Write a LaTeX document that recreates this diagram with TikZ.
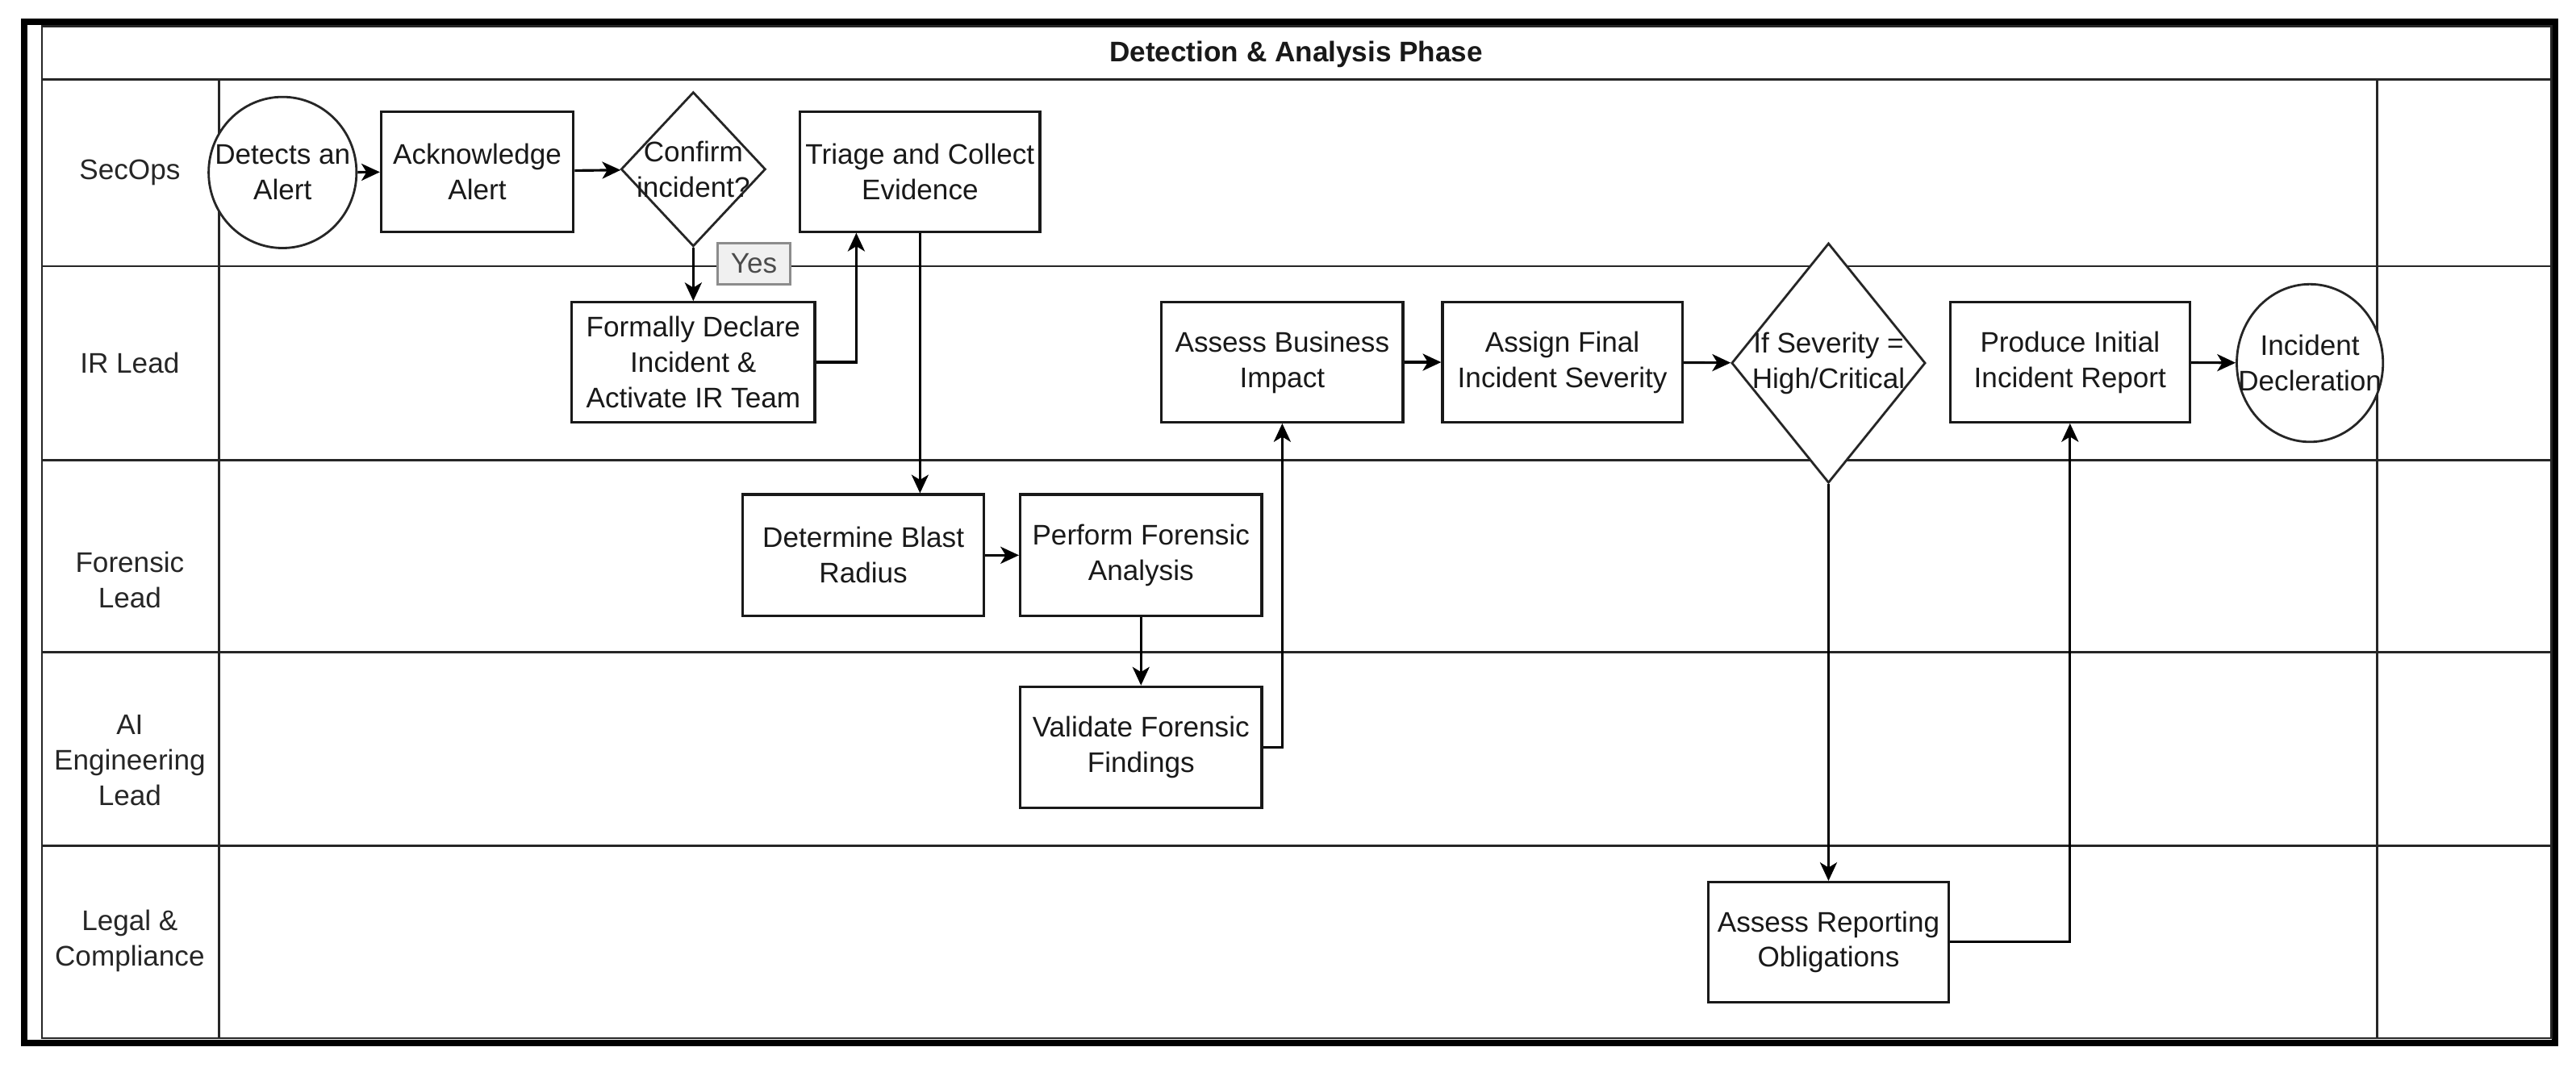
\documentclass[tikz,border=0pt]{standalone}
\usepackage{fontspec}
\setmainfont{Liberation Sans}
\usetikzlibrary{shapes.geometric,arrows.meta,calc}
\newcommand{\uu}{0.020364cm}
\begin{document}
\begin{tikzpicture}[x=0.020364cm,y=-0.020364cm,
  lane/.style={draw=black!85, line width=0.8pt},
  frame/.style={draw=black, line width=2.1pt},
  box/.style={draw=black!90, line width=0.9pt, fill=white, rectangle, inner sep=0pt, align=center, font=\fontsize{10}{12.5}\selectfont, text=black!90},
  ell/.style={draw=black!85, line width=0.8pt, fill=white, ellipse, inner sep=0pt},
  dia/.style={draw=black!85, line width=0.8pt, fill=white, diamond, inner sep=0pt},
  txt/.style={align=center, font=\fontsize{10}{12.5}\selectfont, text=black!90, inner sep=0pt},
  lanelabel/.style={align=center, font=\fontsize{10}{12.5}\selectfont, text=black!85, inner sep=0pt},
  yes/.style={draw=black!45, line width=0.8pt, fill=black!6, text=black!70, inner sep=0pt, minimum width=44*\uu, minimum height=25*\uu, font=\fontsize{10}{12}\selectfont},
  arr/.style={draw=black, line width=0.9pt, -{Stealth[length=6.5pt,width=6pt,inset=1.8pt]}}
]
\useasboundingbox (0,0) rectangle (1568,650);

% outer frame and pool
\draw[frame] (14.7,13.2) rectangle (1555.3,635);
\draw[lane] (25.5,16) rectangle (1553,632);
\draw[lane] (25.5,48.5) -- (1553,48.5);
\foreach \yy in {162,280,397,515} {\draw[lane] (25.5,\yy) -- (1553,\yy);}
\draw[lane] (133.5,48.5) -- (133.5,632);
\draw[lane] (1447,48.5) -- (1447,632);

\node[txt, font=\fontsize{10}{12}\selectfont\bfseries] (title) at (789,33) {Detection \& Analysis Phase};

% lane labels
\node[lanelabel] (l1) at (79,105) {SecOps};
\node[lanelabel] (l2) at (79,221) {IR Lead};
\node[lanelabel] (l3) at (79,353) {Forensic\\Lead};
\node[lanelabel] (l4) at (79,463) {AI\\Engineering\\Lead};
\node[lanelabel] (l5) at (79,573) {Legal \&\\Compliance};

% SecOps lane
\node[ell, minimum width=90*\uu, minimum height=92*\uu] (det) at (172,105) {};
\node[txt] (det-t) at (det) {Detects an\\Alert};
\node[box, minimum width=117*\uu, minimum height=73*\uu] (ack) at (290.5,104.5) {Acknowledge\\Alert};
\node[dia, minimum width=88*\uu, minimum height=94*\uu] (conf) at (422,103) {};
\node[txt] (conf-t) at (conf) {Confirm\\incident?};
\node[box, minimum width=146*\uu, minimum height=73*\uu] (tri) at (560,104.5) {Triage and Collect\\Evidence};

% IR Lead lane
\node[box, minimum width=148*\uu, minimum height=73*\uu] (decl) at (422,220.5) {Formally Declare\\Incident \&\\Activate IR Team};
\node[box, minimum width=147*\uu, minimum height=73*\uu] (abi) at (780.5,220.5) {Assess Business\\Impact};
\node[box, minimum width=146*\uu, minimum height=73*\uu] (afs) at (951,220.5) {Assign Final\\Incident Severity};
\node[dia, minimum width=118*\uu, minimum height=146*\uu] (sev) at (1113,221) {};
\node[txt] (sev-t) at (sev) {If Severity =\\High/Critical};
\node[box, minimum width=146*\uu, minimum height=73*\uu] (pir) at (1260,220.5) {Produce Initial\\Incident Report};
\node[ell, minimum width=89*\uu, minimum height=96*\uu] (dec) at (1406,221) {};
\node[txt] (dec-t) at (dec) {Incident\\Decleration};

% Forensic lane
\node[box, minimum width=147*\uu, minimum height=74*\uu] (blast) at (525.5,338) {Determine Blast\\Radius};
\node[box, minimum width=147*\uu, minimum height=74*\uu] (perf) at (694.5,338) {Perform Forensic\\Analysis};

% AI Engineering lane
\node[box, minimum width=147*\uu, minimum height=74*\uu] (val) at (694.5,455) {Validate Forensic\\Findings};

% Legal lane
\node[box, minimum width=146*\uu, minimum height=73*\uu] (aro) at (1113,573.5) {Assess Reporting\\Obligations};

% connectors
\draw[arr] (det) -- (ack);
\draw[arr] (ack) -- (conf);
\draw[arr] (conf.south) -- node[yes, pos=0.3, xshift=0.753cm] (yes) {Yes} (decl.north);
\coordinate (triin) at ($(tri.south west)+(35,0)$);
\draw[arr] (decl.east) -| (triin);
\draw[arr] (tri.south) -- (tri.south |- blast.north);
\draw[arr] (blast) -- (perf);
\draw[arr] (perf) -- (val);
\draw[arr] (val.east) -| (abi.south);
\draw[arr] (abi) -- (afs);
\draw[arr] (afs) -- (sev);
\draw[arr] (sev.south) -- (aro.north);
\draw[arr] (aro.east) -| (pir.south);
\draw[arr] (pir) -- (dec);
\end{tikzpicture}
\end{document}
